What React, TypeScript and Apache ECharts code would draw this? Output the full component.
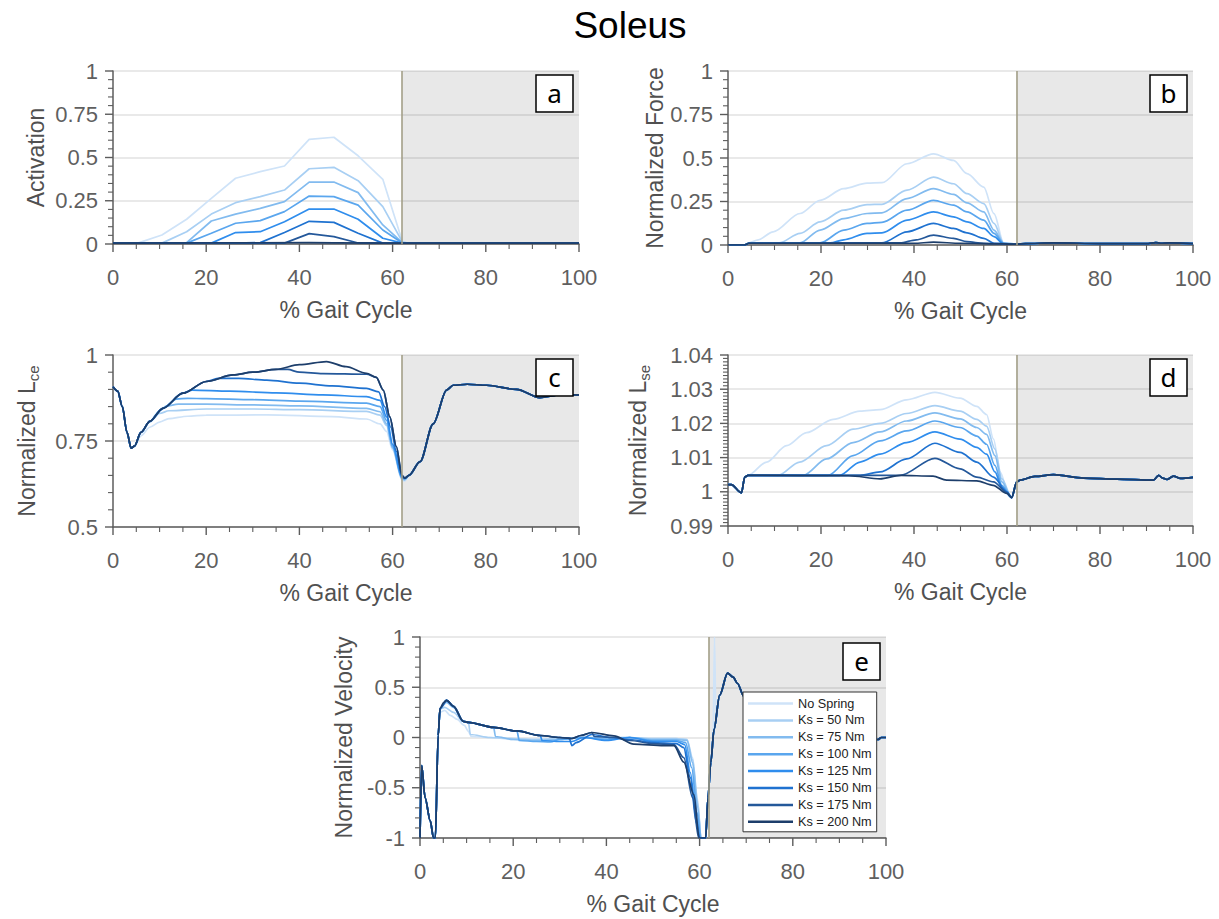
import React, { useEffect, useRef } from "react";
import * as echarts from "echarts";

// Series labels and colours, from no spring (lightest) to the stiffest spring (darkest)
const SPRING_NAMES = [
  "No Spring",
  "Ks = 50 Nm",
  "Ks = 75 Nm",
  "Ks = 100 Nm",
  "Ks = 125 Nm",
  "Ks = 150 Nm",
  "Ks = 175 Nm",
  "Ks = 200 Nm",
];
const SPRING_COLORS = [
  "#cfe3f8",
  "#a8cff3",
  "#82bbef",
  "#5aa6ee",
  "#2f8ded",
  "#1f72d0",
  "#24589a",
  "#1d3e6b",
];

const X_TICKS = [0, 20, 40, 60, 80, 100];
const X_MINOR_SPLIT = 4;
const TOE_OFF = 62; // % gait cycle where the swing phase begins

// (a) Activation, [% gait cycle, value]
const ACTIVATION: number[][][] = [
  [[0, 0.005], [5.3, 0.005], [10.5, 0.052], [15.8, 0.143], [21.1, 0.264], [26.3, 0.38], [31.6, 0.418], [36.8, 0.451], [42.1, 0.605], [47.4, 0.617], [52.6, 0.51], [57.9, 0.374], [62.1, 0.015]],
  [[0, 0.005], [10.5, 0.005], [15.8, 0.071], [21.1, 0.173], [26.3, 0.239], [31.6, 0.274], [36.8, 0.312], [42.1, 0.435], [47.4, 0.443], [52.6, 0.366], [57.9, 0.216], [62.1, 0.012]],
  [[0, 0.005], [15.8, 0.008], [21.1, 0.133], [26.3, 0.173], [31.6, 0.206], [36.8, 0.245], [42.1, 0.358], [47.4, 0.358], [52.6, 0.297], [57.9, 0.11], [62.1, 0.008]],
  [[0, 0.005], [15.8, 0.005], [21.1, 0.062], [26.3, 0.12], [31.6, 0.135], [36.8, 0.187], [42.1, 0.277], [47.4, 0.274], [52.6, 0.225], [57.9, 0.081], [62.1, 0.006]],
  [[0, 0.005], [21.1, 0.005], [26.3, 0.066], [31.6, 0.071], [36.8, 0.129], [42.1, 0.202], [47.4, 0.202], [52.6, 0.143], [57.9, 0.033], [62.1, 0.005]],
  [[0, 0.005], [26.3, 0.005], [31.6, 0.008], [36.8, 0.066], [42.1, 0.131], [47.4, 0.125], [52.6, 0.062], [57.9, 0.005], [62.1, 0.005]],
  [[0, 0.005], [36.8, 0.005], [42.1, 0.06], [47.4, 0.043], [52.6, 0.006], [57.9, 0.005], [62.1, 0.005]],
  [[0, 0.005], [42.1, 0.008], [47.4, 0.007], [62.1, 0.005]],
];
const ACTIVATION_TAIL = [[63.2, 0.005], [100, 0.005]];

// (b) Normalized force
const FORCE: number[][][] = [
  [[0, 0], [3.5, 0], [4.5, 0.012], [6.5, 0.03], [9.7, 0.076], [15.5, 0.181], [19.8, 0.257], [24.9, 0.324], [29.9, 0.356], [33.1, 0.358], [38.5, 0.467], [44.2, 0.524], [48.5, 0.486], [51.4, 0.41], [55, 0.333], [57.2, 0.18], [59.3, 0.01], [62, 0.005]],
  [[0, 0], [3.5, 0], [4.5, 0.01], [11, 0.012], [15.5, 0.067], [19.8, 0.133], [24.9, 0.2], [29.9, 0.232], [33.1, 0.234], [38.5, 0.315], [44.2, 0.39], [48.5, 0.352], [51.4, 0.295], [55, 0.238], [57.2, 0.124], [59.3, 0.01], [62, 0.005]],
  [[0, 0], [3.5, 0], [4.5, 0.01], [15.5, 0.012], [19.8, 0.086], [24.9, 0.152], [29.9, 0.181], [33.1, 0.185], [38.5, 0.267], [44.2, 0.324], [48.5, 0.291], [51.4, 0.242], [55, 0.19], [57.2, 0.086], [59.3, 0.01], [62, 0.005]],
  [[0, 0], [3.5, 0], [4.5, 0.01], [19.8, 0.012], [24.9, 0.086], [29.9, 0.124], [33.1, 0.13], [38.5, 0.2], [44.2, 0.257], [48.5, 0.229], [51.4, 0.19], [55, 0.143], [57.2, 0.067], [59.3, 0.008], [62, 0.005]],
  [[0, 0], [3.5, 0], [4.5, 0.01], [22, 0.012], [24.9, 0.03], [29.9, 0.067], [33.1, 0.07], [38.5, 0.143], [44.2, 0.19], [48.5, 0.162], [51.4, 0.133], [55, 0.095], [57.2, 0.048], [59.3, 0.006], [62, 0.005]],
  [[0, 0], [3.5, 0], [4.5, 0.01], [33.1, 0.012], [38.5, 0.076], [44.2, 0.124], [48.5, 0.095], [51.4, 0.07], [55, 0.038], [57.2, 0.01], [62, 0.005]],
  [[0, 0], [3.5, 0], [4.5, 0.01], [37, 0.012], [40.5, 0.03], [44.2, 0.057], [48.5, 0.038], [51.4, 0.019], [55, 0.01], [62, 0.005]],
  [[0, 0], [3.5, 0], [4.5, 0.01], [40, 0.01], [44.2, 0.016], [50, 0.01], [59.3, 0.006], [62, 0.005]],
];
const FORCE_TAIL = [[64, 0.008], [70, 0.012], [80, 0.008], [90, 0.008], [92, 0.014], [93, 0.01], [95, 0.012], [100, 0.008]];

// (c) Normalized contractile element length
const LCE: number[][][] = [
  [[0, 0.908], [1, 0.895], [2, 0.85], [3, 0.775], [3.9, 0.729], [4.6, 0.735], [6, 0.765], [7.9, 0.79], [10, 0.805], [12, 0.815], [16, 0.822], [20, 0.825], [33, 0.826], [47, 0.821], [54.4, 0.814], [57.3, 0.8], [58.7, 0.778], [60, 0.724], [62, 0.637], [62.6, 0.633]],
  [[0, 0.908], [1, 0.895], [2, 0.85], [3, 0.775], [3.9, 0.729], [4.6, 0.735], [6, 0.775], [7.9, 0.805], [10, 0.83], [12, 0.838], [20, 0.843], [30, 0.843], [40, 0.841], [54.4, 0.836], [57.3, 0.825], [58.7, 0.795], [60, 0.73], [62, 0.64], [62.6, 0.636]],
  [[0, 0.908], [1, 0.895], [2, 0.85], [3, 0.775], [3.9, 0.729], [4.6, 0.735], [6, 0.775], [7.9, 0.807], [10, 0.838], [11.5, 0.852], [14, 0.857], [20, 0.857], [30, 0.855], [40, 0.852], [54.4, 0.845], [57.3, 0.835], [58.7, 0.8], [60, 0.73], [62, 0.642], [62.6, 0.638]],
  [[0, 0.908], [1, 0.895], [2, 0.85], [3, 0.775], [3.9, 0.729], [4.6, 0.735], [6, 0.775], [7.9, 0.807], [10.7, 0.845], [13.6, 0.872], [16, 0.874], [20, 0.873], [30, 0.87], [40, 0.866], [54.4, 0.86], [57.3, 0.85], [58.7, 0.81], [60, 0.735], [62, 0.643], [62.6, 0.64]],
  [[0, 0.908], [1, 0.895], [2, 0.85], [3, 0.775], [3.9, 0.729], [4.6, 0.735], [6, 0.775], [7.9, 0.807], [10.7, 0.845], [15, 0.889], [17, 0.898], [25, 0.895], [35, 0.89], [45, 0.884], [54.4, 0.879], [57.3, 0.868], [58.7, 0.82], [60, 0.74], [62, 0.645], [62.6, 0.641]],
  [[0, 0.908], [1, 0.895], [2, 0.85], [3, 0.775], [3.9, 0.729], [4.6, 0.735], [6, 0.775], [7.9, 0.807], [10.7, 0.845], [15, 0.889], [20, 0.923], [22.5, 0.932], [27, 0.932], [33, 0.927], [40, 0.918], [47, 0.91], [54.4, 0.903], [57, 0.893], [58.3, 0.85], [59.6, 0.79], [60.8, 0.72], [62, 0.647], [62.6, 0.642]],
  [[0, 0.908], [1, 0.895], [2, 0.85], [3, 0.775], [3.9, 0.729], [4.6, 0.735], [6, 0.775], [7.9, 0.807], [10.7, 0.845], [15, 0.889], [20, 0.923], [25.8, 0.942], [30, 0.95], [35, 0.958], [37.5, 0.958], [40, 0.95], [45, 0.946], [54.4, 0.944], [56.5, 0.935], [58, 0.898], [59.4, 0.82], [60.8, 0.734], [62, 0.65], [62.6, 0.642]],
  [[0, 0.908], [1, 0.895], [2, 0.85], [3, 0.775], [3.9, 0.729], [4.6, 0.735], [6, 0.775], [7.9, 0.807], [10.7, 0.845], [15, 0.889], [20, 0.923], [25.8, 0.942], [30, 0.95], [35, 0.958], [40, 0.972], [45.8, 0.981], [50, 0.966], [54.4, 0.947], [56.5, 0.935], [58, 0.898], [59.4, 0.82], [60.8, 0.734], [62, 0.65], [62.6, 0.642]],
];
const LCE_TAIL = [[63.5, 0.65], [65.9, 0.69], [68.7, 0.8], [71.6, 0.898], [73, 0.912], [76, 0.915], [80.2, 0.912], [86.6, 0.9], [91.6, 0.876], [95.9, 0.884], [100, 0.884]];

// (d) Normalized series elastic element length
const LSE: number[][][] = [
  [[0, 1.0021], [0.7, 1.0021], [2.9, 0.9997], [3.6, 1.0043], [4.3, 1.0048], [8.3, 1.0087], [12.6, 1.0135], [16.9, 1.0173], [22.6, 1.0212], [28.4, 1.0236], [32.7, 1.024], [38.4, 1.0269], [44.5, 1.0291], [49.9, 1.0274], [53.5, 1.025], [55.6, 1.0226], [57.1, 1.0154], [58.5, 1.0058], [60.3, 0.9995], [61, 0.9983]],
  [[0, 1.0021], [0.7, 1.0021], [2.9, 0.9997], [3.6, 1.0043], [4.3, 1.0048], [10.8, 1.0048], [15.4, 1.0087], [21.2, 1.0135], [26.9, 1.0183], [32.7, 1.02], [38.4, 1.0229], [44.5, 1.0252], [49.9, 1.0236], [53.5, 1.0212], [55.6, 1.0192], [57.4, 1.0125], [58.9, 1.0038], [61, 0.9983]],
  [[0, 1.0021], [0.7, 1.0021], [2.9, 0.9997], [3.6, 1.0043], [4.3, 1.0048], [16.2, 1.0048], [21.2, 1.0096], [26.9, 1.0144], [32.7, 1.0175], [38.4, 1.0207], [44.5, 1.0231], [49.9, 1.0213], [53.5, 1.0188], [55.6, 1.0168], [57.4, 1.0106], [58.9, 1.0029], [61, 0.9983]],
  [[0, 1.0021], [0.7, 1.0021], [2.9, 0.9997], [3.6, 1.0043], [4.3, 1.0048], [21.5, 1.0048], [26.9, 1.0106], [32.7, 1.0149], [38.4, 1.0178], [44.5, 1.0207], [49.9, 1.0188], [53.5, 1.0163], [55.6, 1.0139], [57.4, 1.0077], [58.9, 1.0019], [61, 0.9983]],
  [[0, 1.0021], [0.7, 1.0021], [2.9, 0.9997], [3.6, 1.0043], [4.3, 1.0048], [24, 1.0048], [28.4, 1.0087], [32.7, 1.011], [38.4, 1.0144], [44.5, 1.0175], [49.9, 1.0154], [53.5, 1.013], [55.6, 1.011], [57.4, 1.0058], [58.9, 1.0012], [61, 0.9983]],
  [[0, 1.0021], [0.7, 1.0021], [2.9, 0.9997], [3.6, 1.0043], [4.3, 1.0048], [28.4, 1.0048], [32.7, 1.0058], [38.4, 1.0096], [44.5, 1.0142], [49.9, 1.0115], [53.5, 1.0087], [57.1, 1.0043], [60, 1.0], [61, 0.9983]],
  [[0, 1.0021], [0.7, 1.0021], [2.9, 0.9997], [3.6, 1.0043], [4.3, 1.0048], [37, 1.0048], [44.5, 1.0098], [49.9, 1.0067], [53.5, 1.0043], [57.1, 1.0029], [60, 0.9998], [61, 0.9983]],
  [[0, 1.0021], [0.7, 1.0021], [2.9, 0.9997], [3.6, 1.0043], [4.3, 1.0048], [26, 1.0047], [32.7, 1.0038], [37, 1.0048], [44.1, 1.0046], [47, 1.0034], [53.5, 1.0032], [57, 1.0019], [60, 0.9995], [61, 0.9983]],
];
const LSE_TAIL = [[62.1, 1.0029], [62.8, 1.0034], [66, 1.0045], [70, 1.005], [76.5, 1.004], [83.6, 1.0037], [91.5, 1.0034], [92.6, 1.0048], [93.5, 1.004], [94.4, 1.0036], [95.8, 1.0046], [97.3, 1.0039], [100, 1.0042]];

// (e) Normalized contractile velocity
const VELOCITY: number[][][] = [
  [[0, -1], [0.36, -0.28], [1.1, -0.6], [2.2, -0.83], [2.9, -1], [3.3, -1], [3.9, 0.02], [4.3, 0.25], [5.3, 0.27], [6.5, 0.22], [8, 0.18], [9.5, 0.12], [10.4, 0.06], [11, 0.01], [15, 0.0], [20, -0.02], [25, -0.015], [30, -0.01], [35, 0.0], [40, 0.0], [45, 0.0], [50, -0.01], [55, -0.01], [57.3, -0.02], [58.5, -0.2], [59.5, -0.6], [60.3, -1], [61.3, -1], [61.8, -0.6], [62.4, -0.25], [62.9, 0.0], [63.2, 1.0], [63.5, 0.15], [64.3, 0.42]],
  [[0, -1], [0.36, -0.28], [1.1, -0.6], [2.2, -0.83], [2.9, -1], [3.3, -1], [3.9, 0.02], [4.3, 0.28], [5.3, 0.3], [7.2, 0.25], [9.3, 0.16], [10.4, 0.15], [10.8, 0.03], [15, 0.0], [20, -0.01], [25, -0.02], [30, -0.01], [35, 0.0], [40, 0.0], [45, 0.0], [50, -0.01], [55, -0.01], [57.3, -0.02], [58.5, -0.22], [59.6, -0.65], [60.3, -1], [61.3, -1], [61.8, -0.6], [62.4, -0.25], [63.1, 0.08], [64.3, 0.42]],
  [[0, -1], [0.36, -0.28], [1.1, -0.6], [2.2, -0.83], [2.9, -1], [3.3, -1], [3.9, 0.02], [4.3, 0.29], [5.7, 0.35], [7.2, 0.3], [9.3, 0.16], [10.4, 0.15], [15.8, 0.1], [16.2, 0.01], [20, -0.02], [25, -0.03], [30, -0.02], [35, 0.0], [40, -0.01], [45, 0.0], [50, -0.02], [55, -0.02], [57.3, -0.03], [58.5, -0.25], [59.6, -0.7], [60.3, -1], [61.3, -1], [61.8, -0.6], [62.4, -0.25], [63.1, 0.08], [64.3, 0.42]],
  [[0, -1], [0.36, -0.28], [1.1, -0.6], [2.2, -0.83], [2.9, -1], [3.3, -1], [3.9, 0.02], [4.3, 0.29], [5.7, 0.37], [7.2, 0.31], [9.3, 0.16], [10.4, 0.15], [15.8, 0.1], [20.8, 0.065], [21.3, -0.03], [25, -0.04], [28, -0.045], [30, -0.02], [35, 0.0], [40, -0.02], [45, 0.0], [50, -0.03], [55, -0.03], [57, -0.05], [58.3, -0.3], [59.5, -0.75], [60.2, -1], [61.3, -1], [61.8, -0.6], [62.4, -0.25], [63.1, 0.08], [64.3, 0.42]],
  [[0, -1], [0.36, -0.28], [1.1, -0.6], [2.2, -0.83], [2.9, -1], [3.3, -1], [3.9, 0.02], [4.3, 0.29], [5.7, 0.37], [7.2, 0.31], [9.3, 0.16], [10.4, 0.15], [15.8, 0.1], [20.8, 0.065], [25.8, 0.02], [26.2, -0.03], [30, -0.04], [32.6, -0.04], [35, 0.0], [40, -0.03], [45, 0.0], [50, -0.04], [55, -0.04], [56.8, -0.07], [58, -0.35], [59.3, -0.8], [60, -1], [61.3, -1], [61.8, -0.6], [62.4, -0.25], [63.1, 0.08], [64.3, 0.42]],
  [[0, -1], [0.36, -0.28], [1.1, -0.6], [2.2, -0.83], [2.9, -1], [3.3, -1], [3.9, 0.02], [4.3, 0.29], [5.7, 0.37], [7.2, 0.31], [9.3, 0.16], [10.4, 0.15], [15.8, 0.1], [20.8, 0.065], [25.8, 0.02], [30, 0.0], [32, -0.005], [32.6, -0.08], [33.5, -0.05], [36.9, 0.03], [41, 0.0], [45, -0.02], [50, -0.05], [55, -0.06], [56.6, -0.1], [58, -0.4], [59.3, -0.85], [60, -1], [61.3, -1], [61.8, -0.6], [62.4, -0.25], [63.1, 0.08], [64.3, 0.42]],
  [[0, -1], [0.36, -0.28], [1.1, -0.6], [2.2, -0.83], [2.9, -1], [3.3, -1], [3.9, 0.02], [4.3, 0.29], [5.7, 0.37], [7.2, 0.31], [9.3, 0.16], [10.4, 0.15], [15.8, 0.1], [20.8, 0.065], [25.8, 0.02], [30, 0.0], [32.6, -0.01], [34.5, 0.02], [36.9, 0.05], [37.4, 0.01], [41.6, 0.0], [45, -0.03], [50, -0.06], [54.5, -0.07], [56.6, -0.2], [58.5, -0.6], [59.8, -1], [61.3, -1], [61.8, -0.6], [62.4, -0.25], [63.1, 0.08], [64.3, 0.42]],
  [[0, -1], [0.36, -0.28], [1.1, -0.6], [2.2, -0.83], [2.9, -1], [3.3, -1], [3.9, 0.02], [4.3, 0.29], [5.1, 0.35], [5.7, 0.37], [7.2, 0.31], [9.3, 0.16], [10.4, 0.15], [15.8, 0.1], [20.8, 0.065], [25.8, 0.02], [30, 0.0], [32.6, -0.01], [34.5, 0.02], [36.9, 0.05], [41.6, 0.016], [45.9, -0.065], [52.3, -0.08], [54.5, -0.08], [56.6, -0.245], [58.8, -0.57], [59.9, -1], [61.3, -1], [61.8, -0.6], [62.4, -0.25], [63.1, 0.08], [64.3, 0.42]],
];
const VELOCITY_TAIL = [[66, 0.64], [67.2, 0.6], [68.1, 0.54], [69.5, 0.41], [71, 0.2], [72.5, 0.05], [75, -0.01], [85, -0.03], [92, -0.04], [95, -0.02], [98.3, -0.02], [99, 0.0], [100, 0.0]];

const FONT = '"Liberation Sans", Arial, Helvetica, sans-serif';
const AXIS_COLOR = "#5c5c5c";
const LABEL_COLOR = "#5f5f5f";
const NAME_COLOR = "#505050";

type Panel = {
  letter: string;
  grid: { left: number; top: number; width: number; height: number };
  yMin: number;
  yMax: number;
  yInterval: number;
  yMinor: number;
  yName: string;
  yGap: number;
  series: number[][][];
  tail: number[][];
  smooth: boolean;
};

const PANELS: Panel[] = [
  { letter: "a", grid: { left: 113, top: 71, width: 466, height: 173 }, yMin: 0, yMax: 1, yInterval: 0.25, yMinor: 5, yName: "Activation", yGap: 66, series: ACTIVATION, tail: ACTIVATION_TAIL, smooth: false },
  { letter: "b", grid: { left: 728, top: 71, width: 465, height: 174 }, yMin: 0, yMax: 1, yInterval: 0.25, yMinor: 5, yName: "Normalized Force", yGap: 58, series: FORCE, tail: FORCE_TAIL, smooth: true },
  { letter: "c", grid: { left: 113, top: 355, width: 466, height: 172 }, yMin: 0.5, yMax: 1, yInterval: 0.25, yMinor: 5, yName: "Normalized L{sub|ce}", yGap: 72, series: LCE, tail: LCE_TAIL, smooth: true },
  { letter: "d", grid: { left: 728, top: 355, width: 465, height: 171 }, yMin: 0.99, yMax: 1.04, yInterval: 0.01, yMinor: 10, yName: "Normalized L{sub|se}", yGap: 76, series: LSE, tail: LSE_TAIL, smooth: true },
  { letter: "e", grid: { left: 420, top: 637, width: 466, height: 201 }, yMin: -1, yMax: 1, yInterval: 0.5, yMinor: 5, yName: "Normalized Velocity", yGap: 65, series: VELOCITY, tail: VELOCITY_TAIL, smooth: true },
];

const X_MIN = X_TICKS[0];
const X_MAX = X_TICKS[X_TICKS.length - 1];
const X_INTERVAL = X_TICKS[1] - X_TICKS[0];

const roundTick = (v: number) => Math.round(v * 1e6) / 1e6;

// tick positions (value, isMajor) along an axis, from its interval and minor split count
function tickValues(min: number, max: number, interval: number, split: number) {
  const step = interval / split;
  const count = Math.round((max - min) / step);
  const out: number[][] = [];
  for (let k = 0; k <= count; k++) out.push([roundTick(min + k * step), k % split === 0 ? 1 : 0]);
  return out;
}

// panel letter boxes in the top right corner of each plot
function letterBoxes() {
  const items: any[] = [];
  PANELS.forEach((p, i) => {
    const bx = p.grid.left + p.grid.width - 43;
    const by = p.grid.top + (i === 4 ? 6 : 4);
    items.push({
      type: "rect",
      z: 20,
      shape: { x: bx, y: by, width: 37, height: 37 },
      style: { fill: "#ffffff", stroke: "#000000", lineWidth: 1.5 },
    });
    items.push({
      type: "text",
      z: 21,
      x: bx + 18.5,
      y: by + 18,
      style: {
        text: p.letter,
        fill: "#000000",
        font: '26px "Noto Sans", "Open Sans", sans-serif',
        align: "center",
        verticalAlign: "middle",
      },
    });
  });
  return items;
}

// outward tick marks, placed through each grid's own value-to-pixel mapping
function tickMarks(chart: echarts.ECharts) {
  const items: any[] = [];
  PANELS.forEach((p, i) => {
    const finder = { xAxisIndex: i, yAxisIndex: i };
    tickValues(X_MIN, X_MAX, X_INTERVAL, X_MINOR_SPLIT).forEach(([v, major]) => {
      const pt = chart.convertToPixel(finder as any, [v, p.yMin]) as number[];
      if (!pt) return;
      const len = major ? 8 : 5;
      const w = major ? 1.4 : 1.1;
      items.push({
        type: "rect",
        z: 15,
        silent: true,
        shape: { x: pt[0] - w / 2, y: pt[1], width: w, height: len },
        style: { fill: AXIS_COLOR },
      });
    });
    tickValues(p.yMin, p.yMax, p.yInterval, p.yMinor).forEach(([v, major]) => {
      const pt = chart.convertToPixel(finder as any, [X_MIN, v]) as number[];
      if (!pt) return;
      const len = major ? 8 : 5;
      const w = major ? 1.4 : 1.1;
      items.push({
        type: "rect",
        z: 15,
        silent: true,
        shape: { x: pt[0] - len, y: pt[1] - w / 2, width: len, height: w },
        style: { fill: AXIS_COLOR },
      });
    });
  });
  return items;
}

function buildOption() {
  const grids: any[] = [];
  const xAxes: any[] = [];
  const yAxes: any[] = [];
  const series: any[] = [];

  PANELS.forEach((p, i) => {
    grids.push({ ...p.grid, containLabel: false });

    xAxes.push({
      type: "value",
      gridIndex: i,
      min: X_MIN,
      max: X_MAX,
      interval: X_INTERVAL,
      name: "% Gait Cycle",
      nameLocation: "middle",
      nameGap: 54,
      nameTextStyle: { fontSize: 23, color: NAME_COLOR, fontFamily: FONT },
      axisLine: { show: true, onZero: false, lineStyle: { color: AXIS_COLOR, width: 1.5 } },
      axisTick: { show: false },
      minorTick: { show: false },
      splitLine: { show: false },
      axisLabel: { show: true, fontSize: 22, color: LABEL_COLOR, fontFamily: FONT, margin: 22 },
    });

    yAxes.push({
      type: "value",
      gridIndex: i,
      min: p.yMin,
      max: p.yMax,
      interval: p.yInterval,
      name: p.yName,
      nameLocation: "middle",
      nameGap: p.yGap,
      nameRotate: 90,
      nameTextStyle: {
        fontSize: 23,
        color: NAME_COLOR,
        fontFamily: FONT,
        rich: { sub: { fontSize: 15, color: NAME_COLOR, fontFamily: FONT, padding: [14, 0, 0, 0] } },
      },
      axisLine: { show: true, onZero: false, lineStyle: { color: AXIS_COLOR, width: 1.5 } },
      axisTick: { show: false },
      minorTick: { show: false },
      splitLine: { show: true, lineStyle: { color: "#e2e2e2", width: 1.5 } },
      axisLabel: { show: true, fontSize: 22, color: LABEL_COLOR, fontFamily: FONT, margin: 15 },
    });

    // swing phase shading and toe-off marker
    series.push({
      type: "line",
      xAxisIndex: i,
      yAxisIndex: i,
      data: [],
      z: 1,
      silent: true,
      markArea: {
        silent: true,
        itemStyle: { color: "rgba(0,0,0,0.09)" },
        data: [[{ xAxis: TOE_OFF }, { xAxis: X_MAX }]],
      },
      markLine: {
        silent: true,
        symbol: ["none", "none"],
        label: { show: false },
        lineStyle: { color: "#a39f88", width: 1.6, type: "solid" },
        data: [{ xAxis: TOE_OFF }],
      },
    });

    p.series.forEach((pts, s) => {
      series.push({
        type: "line",
        name: SPRING_NAMES[s],
        xAxisIndex: i,
        yAxisIndex: i,
        data: pts.concat(p.tail),
        symbol: "none",
        showSymbol: false,
        smooth: p.smooth ? 0.3 : false,
        smoothMonotone: "x",
        clip: true,
        z: 2,
        lineStyle: { color: SPRING_COLORS[s], width: 1.7 },
        itemStyle: { color: SPRING_COLORS[s] },
      });
    });
  });

  return {
    animation: false,
    backgroundColor: "#ffffff",
    title: {
      text: "Soleus",
      left: 625,
      top: 2,
      textAlign: "center",
      textStyle: { fontSize: 37, fontWeight: "normal", color: "#000000", fontFamily: FONT },
    },
    legend: {
      data: SPRING_NAMES,
      orient: "vertical",
      left: 743,
      top: 692,
      z: 10,
      icon: "rect",
      padding: [5, 5, 3.5, 5],
      itemGap: 3.9,
      itemWidth: 45,
      itemHeight: 2.5,
      backgroundColor: "#ffffff",
      borderColor: "#333333",
      borderWidth: 1,
      borderRadius: 0,
      textStyle: { fontSize: 12.7, color: "#222222", fontFamily: FONT },
    },
    grid: grids,
    xAxis: xAxes,
    yAxis: yAxes,
    series,
    graphic: letterBoxes(),
  };
}

export default function App() {
  const ref = useRef<HTMLDivElement>(null);

  useEffect(() => {
    if (!ref.current) return;
    const chart = echarts.init(ref.current, undefined, { renderer: "svg" });
    chart.setOption(buildOption() as any);
    // add the tick marks once the grids and scales are laid out
    chart.setOption({ graphic: letterBoxes().concat(tickMarks(chart)) } as any);
    return () => chart.dispose();
  }, []);

  return (
    <div
      ref={ref}
      style={{ position: "fixed", left: 0, top: 0, width: 1219, height: 919, background: "#fff" }}
    />
  );
}
